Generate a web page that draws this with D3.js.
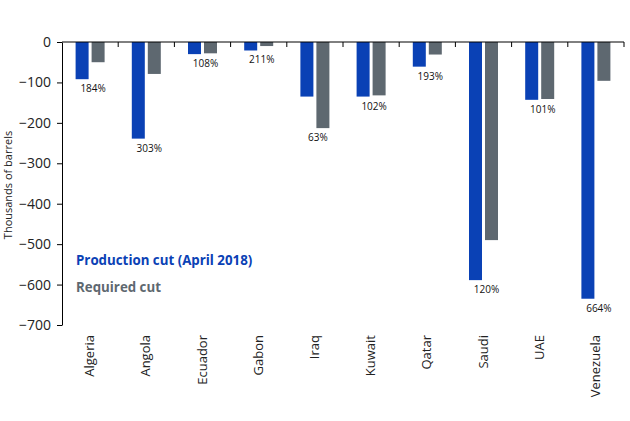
<!DOCTYPE html>
<html><head><meta charset="utf-8">
<script src="https://cdn.jsdelivr.net/npm/d3@7"></script>
<style>body{margin:0;background:#fff}svg{display:block}</style>
</head><body><svg id="c" width="630" height="421"></svg>
<script>
const categories = ["Algeria","Angola","Ecuador","Gabon","Iraq","Kuwait","Qatar","Saudi","UAE","Venezuela"];
const productionCut = [-92,-239,-30,-21,-135,-135,-61,-589,-143,-635];
const requiredCut = [-50,-79,-28,-10,-213,-132,-31,-490,-141,-96];
const ratioLabels = ["184%","303%","108%","211%","63%","102%","193%","120%","101%","664%"];
const yTicks = [0,-100,-200,-300,-400,-500,-600,-700];
const seriesNames = ["Production cut (April 2018)","Required cut"];

(function(){
const colors = ["#0a41b5","#5e6870"];
const svg = d3.select("#c");
const mLeft = 62, mRight = 624, mTop = 42, mBottom = 325;
const x = d3.scaleBand().domain(categories).range([mLeft, mRight]);
const y = d3.scaleLinear().domain([0,-700]).range([mTop, mBottom]);
const font = "'Open Sans', sans-serif";

// y axis
const yAxis = svg.append("g").attr("transform",`translate(${mLeft},0)`)
  .call(d3.axisLeft(y).tickValues(yTicks).tickSize(5).tickSizeOuter(0).tickPadding(6));
yAxis.select(".domain").attr("stroke","#000");
yAxis.selectAll("line").attr("stroke","#000");
yAxis.selectAll("text").attr("font-family",font).attr("font-size",14).attr("fill","#222");

// bars
const bw = 13, gap = 3;
const g = svg.append("g");
categories.forEach((c,i)=>{
  const cx = x(c) + x.bandwidth()/2;
  [productionCut[i], requiredCut[i]].forEach((v,j)=>{
    const x0 = j===0 ? cx - gap/2 - bw : cx + gap/2;
    g.append("rect").attr("x",x0).attr("y",y(0)).attr("width",bw)
      .attr("height",y(v)-y(0)).attr("fill",colors[j]);
  });
  const low = Math.min(productionCut[i], requiredCut[i]);
  g.append("text").attr("x",cx+3).attr("y",y(low)+13).attr("text-anchor","middle")
    .attr("font-family",font).attr("font-size",10).attr("fill","#111").text(ratioLabels[i]);
});

// x axis at zero (ticks downward at band boundaries)
const xa = svg.append("g");
xa.append("line").attr("x1",mLeft).attr("x2",mRight).attr("y1",y(0)).attr("y2",y(0)).attr("stroke","#000");
const bounds = categories.map(c=>x(c)).concat([mRight]);
bounds.slice(1).forEach(b=>{
  xa.append("line").attr("x1",b).attr("x2",b).attr("y1",y(0)).attr("y2",y(0)+5).attr("stroke","#000");
});
// category labels
categories.forEach(c=>{
  const cx = x(c) + x.bandwidth()/2 + 4;
  svg.append("text").attr("transform",`translate(${cx},335) rotate(-90)`)
    .attr("text-anchor","end").attr("font-family",font).attr("font-size",13).attr("fill","#222").text(c);
});

// y title
svg.append("text").attr("transform","translate(12,185) rotate(-90)").attr("text-anchor","middle")
  .attr("font-family",font).attr("font-size",11).attr("fill","#222").text("Thousands of barrels");

// legend text
seriesNames.forEach((n,j)=>{
  svg.append("text").attr("x",76).attr("y",265+j*27).attr("font-family",font)
    .attr("font-weight","bold").attr("font-size",13.3).attr("fill",colors[j]).text(n);
});
})();
</script></body></html>
